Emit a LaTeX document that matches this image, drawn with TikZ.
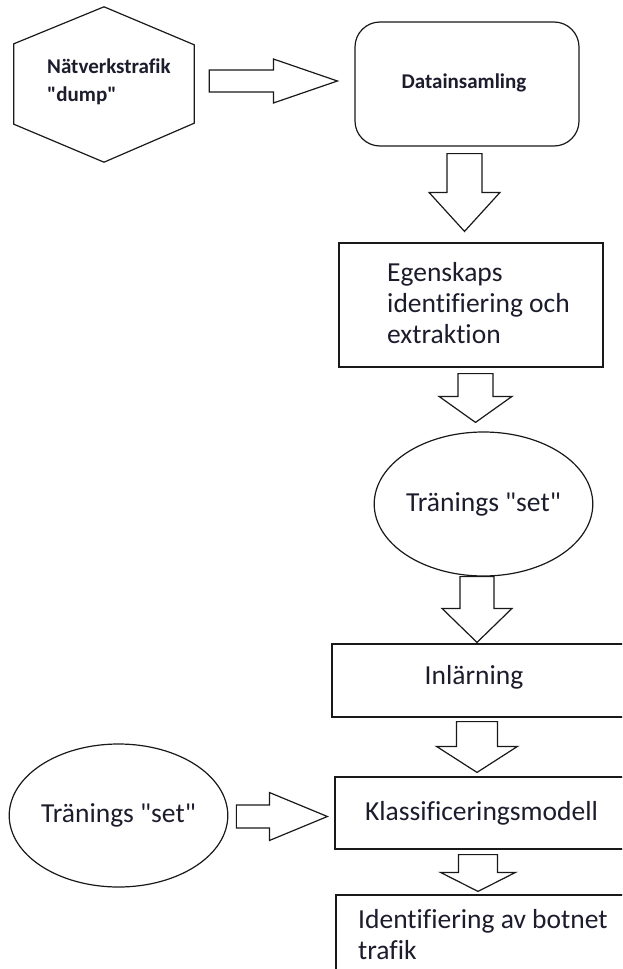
\documentclass[tikz,border=0pt]{standalone}
\usepackage{fontspec}
\setmainfont{Carlito}[Ligatures={TeXOff,CommonOff}]
\usetikzlibrary{calc,shapes.geometric}

\definecolor{ink}{RGB}{25,25,25}
\definecolor{textc}{RGB}{28,28,45}

\tikzset{
  outline/.style={draw=ink, line width=1.2pt},
  boxshape/.style={outline, rectangle, inner sep=0pt},
  txt/.style={text=textc, inner sep=0pt},
  bodytext/.style={txt, font=\fontsize{27.5}{31}\selectfont},
  boldtext/.style={txt, font=\fontsize{21}{28}\selectfont\bfseries},
  % hollow block arrows: #1 shaft half width, #2 head half width, #3 head length
  blockdown/.style n args={3}{outline, to path={
      let \p1=(\tikztostart), \p2=(\tikztotarget) in
      (\x1-#1pt,\y1) -- (\x1+#1pt,\y1) -- (\x1+#1pt,\y2+#3pt) -- (\x1+#2pt,\y2+#3pt)
      -- (\x2,\y2) -- (\x1-#2pt,\y2+#3pt) -- (\x1-#1pt,\y2+#3pt) -- cycle}},
  blockright/.style n args={3}{outline, to path={
      let \p1=(\tikztostart), \p2=(\tikztotarget) in
      (\x1,\y1+#1pt) -- (\x2-#3pt,\y1+#1pt) -- (\x2-#3pt,\y1+#2pt) -- (\x2,\y2)
      -- (\x2-#3pt,\y1-#2pt) -- (\x2-#3pt,\y1-#1pt) -- (\x1,\y1-#1pt) -- cycle}},
}

\begin{document}
\begin{tikzpicture}[x=1pt,y=-1pt]
\clip (0,0) rectangle (622,969);
\fill[white] (0,0) rectangle (622,969);

% source: hexagon
\node[inner sep=0pt, minimum width=180pt, minimum height=155pt] (hex) at (104,84.5) {};
\draw[outline] (hex.north) -- ($(hex.north east)+(0,38)$) -- ($(hex.south east)+(0,-39)$)
  -- (hex.south) -- ($(hex.south west)+(0,-38)$) -- ($(hex.north west)+(0,37)$) -- cycle;
\node[boldtext, align=left, anchor=west] (hexlabel) at (47,82) {Nätverkstrafik\\"dump"};

% process steps
\node[boxshape, rounded corners=25pt, minimum width=224pt, minimum height=124pt] (data) at (467,84) {};
\node[boldtext] (datalabel) at (464,83) {Datainsamling};

\node[boxshape, minimum width=264pt, minimum height=124pt] (feat) at (471,305) {};
\node[bodytext, align=left, anchor=west] (featlabel) at (387,303) {Egenskaps\\identifiering och\\extraktion};

\node[outline, ellipse, inner sep=0pt, minimum width=169pt, minimum height=144pt,
      bodytext] (train) at (483.5,504) {Tränings "set"};

\node[boxshape, minimum width=308pt, minimum height=73pt] (learn) at (486,680.5) {};
\node[bodytext] (learnlabel) at (474,677) {Inlärning};

\node[boxshape, minimum width=305pt, minimum height=72pt] (classif) at (487.5,813) {};
\node[bodytext] (classlabel) at (481.5,813) {Klassificeringsmodell};

\node[boxshape, minimum width=304pt, minimum height=105pt] (ident) at (488,947.5) {};
\node[bodytext, align=left, anchor=west] (identlabel) at (358,935) {Identifiering av botnet\\trafik};

\node[outline, ellipse, inner sep=0pt, minimum width=171pt, minimum height=143pt,
      bodytext] (train2) at (118.5,815.5) {Tränings "set"};

% block arrows between the steps
\draw[blockright={11}{22}{64}] ($(hex.east)+(15,-3.5)$) to ($(data.west)+(-17,-3)$);
\draw[blockdown={17.5}{35.5}{39}] ($(data.south)+(-2.5,7)$) to ($(feat.north)+(-6.5,-11)$);
\draw[blockdown={17.5}{36.5}{26}] ($(feat.south)+(4.5,6)$) to ($(train.north)+(-8,-9)$);
\draw[blockdown={17}{35}{34}] ($(train.south)+(-6.5,0)$) to ($(learn.north)+(-9,-1)$);
\draw[blockdown={20.5}{40.5}{26}] ($(learn.south)+(-9,4)$) to ($(classif.north)+(-10.5,-4)$);
\draw[blockdown={19.5}{37.5}{19}] ($(classif.south)+(-9.5,5)$) to ($(ident.north)+(-10,-3)$);
\draw[blockright={11.5}{24}{58}] ($(train2.east)+(8,1)$) to ($(classif.west)+(-7,3.5)$);
\end{tikzpicture}
\end{document}
